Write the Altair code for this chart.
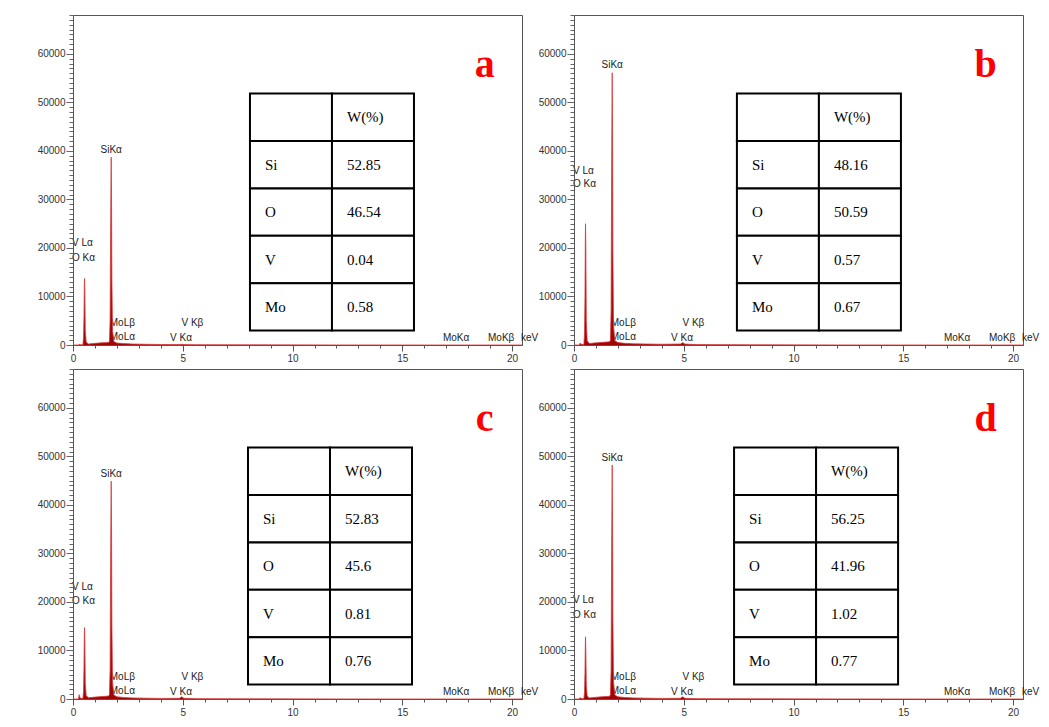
import altair as alt
import pandas as pd

# ---------------- data ----------------
PANELS = ["a", "b", "c", "d"]

ENERGY = [0.00, 0.25, 0.28, 0.32, 0.45, 0.48, 0.50, 0.515, 0.525, 0.54, 0.56, 0.60, 0.70,
          0.90, 1.30, 1.62, 1.66, 1.69, 1.71, 1.725, 1.74, 1.755, 1.77, 1.80, 1.86, 2.00,
          2.30, 2.70, 3.30, 4.00, 4.85, 4.95, 5.05, 5.60, 8.00, 12.00, 16.00, 20.45]

COUNTS_A = [0, 0, 150, 60, 40, 1500, 6000, 11800, 13700, 11000, 3000, 600, 200,
            300, 450, 500, 800, 5000, 21000, 31000, 38700, 30000, 14000, 3000, 700, 400,
            300, 200, 150, 100, 80, 150, 80, 60, 30, 10, 0, 0]
COUNTS_B = [0, 0, 400, 150, 80, 2500, 10000, 21300, 25000, 20000, 5000, 900, 300,
            400, 550, 650, 1000, 7000, 31700, 45100, 56100, 44000, 20000, 4000, 900, 500,
            350, 250, 200, 150, 200, 500, 200, 80, 40, 15, 0, 0]
COUNTS_C = [0, 0, 900, 200, 80, 1600, 6500, 12800, 14700, 12000, 3200, 700, 250,
            350, 500, 600, 900, 6000, 25000, 36400, 44900, 35000, 16000, 3500, 800, 450,
            320, 220, 170, 120, 150, 450, 150, 70, 35, 12, 0, 0]
COUNTS_D = [0, 0, 300, 100, 60, 1400, 5500, 11000, 12800, 10000, 2800, 600, 220,
            320, 480, 550, 900, 6000, 26900, 38500, 48200, 37000, 17000, 3500, 800, 450,
            320, 220, 170, 120, 150, 450, 150, 70, 35, 12, 0, 0]
COUNTS = [COUNTS_A, COUNTS_B, COUNTS_C, COUNTS_D]

ELEMENTS = ["Si", "O", "V", "Mo"]
WT_A = ["52.85", "46.54", "0.04", "0.58"]
WT_B = ["48.16", "50.59", "0.57", "0.67"]
WT_C = ["52.83", "45.6", "0.81", "0.76"]
WT_D = ["56.25", "41.96", "1.02", "0.77"]
WEIGHTS = [WT_A, WT_B, WT_C, WT_D]
TABLE_HEADER = ["", "W(%)"]

# peak-label heights (counts)
VLA_Y = [21100, 35800, 23000, 20300]
OKA_Y = [18000, 33100, 20100, 17400]

X_TICKS = [0, 1, 2, 3, 4, 5, 6, 7, 8, 9, 10, 11, 12, 13, 14, 15, 16, 17, 18, 19, 20]
Y_TICKS = list(range(0, 68001, 1000))

# ---------------- layout constants ----------------
X_MAX = 20.45
Y_MAX = 68000
PW, PH = 449, 330
TABLE_LEFT = [8.06, 7.42, 7.97, 7.29]   # keV
TABLE_TOP = 51800                        # counts
COL_W = 3.735                            # keV
ROW_H = 9767                             # counts

SANS = "Liberation Sans"
SERIF = "Liberation Serif"

x_axis = alt.Axis(
    values=X_TICKS, tickCount=500, title=None, grid=False, format="d",
    labelExpr="datum.value % 5 === 0 ? datum.label : ''",
    tickSize={"condition": {"test": "datum.value % 5 === 0", "value": 6}, "value": 3},
    labelFont=SANS, labelFontSize=10, labelColor="#333",
    domainColor="#555", tickColor="#555", labelOverlap=False, labelFlush=False,
    labelPadding=2, zindex=1,
)
y_axis = alt.Axis(
    values=Y_TICKS, tickCount=500, title=None, grid=False, format="d",
    labelExpr="datum.value % 10000 === 0 ? datum.label : ''",
    tickSize={"condition": {"test": "datum.value % 10000 === 0", "value": 7}, "value": 4},
    labelFont=SANS, labelFontSize=10, labelColor="#333",
    domainColor="#555", tickColor="#666", labelOverlap=False, labelFlush=False,
    labelPadding=1, zindex=1,
)


def panel(i):
    counts = COUNTS[i]
    si_peak = max(counts)
    xs = alt.X("E:Q", scale=alt.Scale(domain=[0, X_MAX], nice=False, zero=False), axis=x_axis)
    ys = alt.Y("C:Q", scale=alt.Scale(domain=[0, Y_MAX], nice=False), axis=y_axis)

    spec = pd.DataFrame({"E": ENERGY, "C": counts})

    left_labels = pd.DataFrame({
        "E": [0.0, 0.0, 1.72, 1.72, X_MAX],
        "C": [VLA_Y[i], OKA_Y[i], 4500, 1650, 1400],
        "t": ["V Lα", "O Kα", "MoLβ", "MoLα", "keV"],
    })
    center_labels = pd.DataFrame({
        "E": [1.74, 5.44, 4.92, 17.45, 19.5],
        "C": [si_peak + 1500, 4600, 1500, 1500, 1500],
        "t": ["SiKα", "V Kβ", "V Kα", "MoKα", "MoKβ"],
    })

    rows = []
    names = TABLE_HEADER[:1] + ELEMENTS
    vals = TABLE_HEADER[1:] + WEIGHTS[i]
    for r in range(5):
        for c, txt in enumerate([names[r], vals[r]]):
            x0 = TABLE_LEFT[i] + c * COL_W
            y0 = TABLE_TOP - r * ROW_H
            rows.append({"E": x0, "E2": x0 + COL_W, "C": y0, "C2": y0 - ROW_H,
                         "Cm": y0 - ROW_H / 2, "t": txt})
    table = pd.DataFrame(rows)

    letter = pd.DataFrame({"E": [18.75], "C": [55300], "t": [PANELS[i]]})

    l_txt = alt.Chart(left_labels).mark_text(
        align="left", baseline="middle", font=SANS, fontSize=10, color="#222", dx=-1
    ).encode(x=xs, y=ys, text="t:N")
    c_txt = alt.Chart(center_labels).mark_text(
        align="center", baseline="middle", font=SANS, fontSize=10, color="#222"
    ).encode(x=xs, y=ys, text="t:N")
    area = alt.Chart(spec).mark_area(color="#9e0505", opacity=1).encode(x=xs, y=ys)
    line = alt.Chart(spec).mark_line(color="#d83a3a", strokeWidth=0.8).encode(x=xs, y=ys)
    cells = alt.Chart(table).mark_rect(
        fill="white", stroke="black", strokeWidth=2
    ).encode(x=xs, x2="E2:Q", y=ys, y2="C2:Q")
    cell_txt = alt.Chart(table).mark_text(
        align="left", baseline="middle", font=SERIF, fontSize=15, color="black", dx=15
    ).encode(x=xs, y=alt.Y("Cm:Q"), text="t:N")
    let = alt.Chart(letter).mark_text(
        align="center", baseline="alphabetic", font=SERIF, fontSize=40,
        fontWeight="bold", color="#ff0000"
    ).encode(x=xs, y=ys, text="t:N")

    return alt.layer(l_txt, c_txt, area, line, cells, cell_txt, let).properties(
        width=PW, height=PH
    )


chart = alt.concat(
    *[panel(i) for i in range(4)],
    columns=2,
    spacing={"row": 24, "column": 52},
    bounds="flush",
).properties(
    padding={"left": 28, "top": 1, "right": 0, "bottom": 0},
    background="white",
).configure_view(stroke="#555", strokeWidth=1)

chart.save("out.html", embed_options={"renderer": "svg", "actions": False})
